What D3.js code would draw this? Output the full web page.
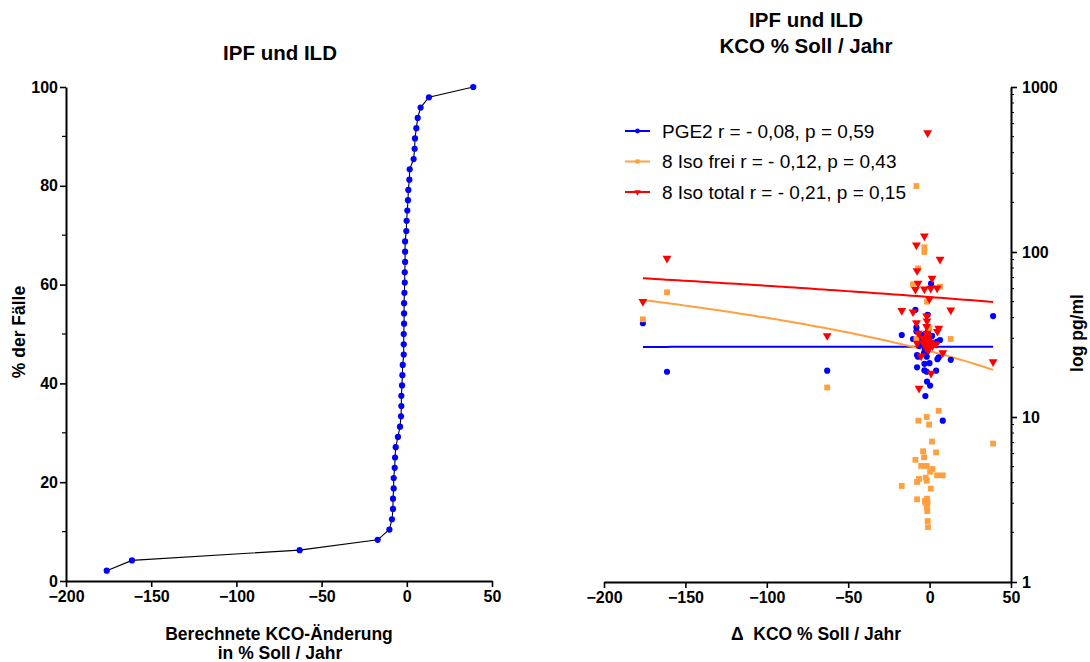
<!DOCTYPE html>
<html><head><meta charset="utf-8">
<script src="https://cdn.jsdelivr.net/npm/d3@7"></script>
<style>body{margin:0;background:#fff} text{font-family:Arial,"Liberation Sans",sans-serif}</style>
</head><body><svg id="c" width="1090" height="662"></svg>
<script>
// ---------- data ----------
const kcoChange = [-176.1, -161.3, -62.9, -17.1, -10.2, -8.7, -8.1, -8.1, -7.7, -7.7, -7.1, -6.9, -6.5, -5.2, -4.0, -3.4,
  -3.2, -3.2, -2.8, -2.6, -2.4, -1.8, -1.8, -1.8, -1.6, -1.6, -1.6, -1.4, -1.2, -1.2, -1.0, -1.0,
  -1.0, -0.3, -0.1, 0.3, 0.7, 0.9, 1.5, 1.7, 4.0, 4.6, 4.8, 5.6, 6.4, 8.1, 13.0, 39.0];
const pctCases = [2.08, 4.17, 6.25, 8.33, 10.42, 12.5, 14.58, 16.67, 18.75, 20.83, 22.92, 25, 27.08, 29.17, 31.25, 33.33,
  35.42, 37.5, 39.58, 41.67, 43.75, 45.83, 47.92, 50, 52.08, 54.17, 56.25, 58.33, 60.42, 62.5, 64.58, 66.67,
  68.75, 70.83, 72.92, 75, 77.08, 79.17, 81.25, 83.33, 85.42, 87.5, 89.58, 91.67, 93.75, 95.83, 97.92, 100];
const pge2 = [37.0, 18.8, 19.1, 31.4, 29.7, 44.6, 33, 34.9, 23.7, 20.0, 23.2, 30, 27, 28, 31.4, 24.5,
  21.0, 19.2, 26, 13.4, 29, 32, 23.2, 18.8, 27, 16.4, 30, 25, 28, 41.6, 30.4, 26,
  33, 29, 21.2, 15.5, 27, 64.3, 31, 28, 19.1, 28.6, 22.4, 23.0, 29.3, 9.5, 22.2, 40.9];
const isoFree = [39.1, 57, 15.1, 3.82, 63.7, 5.5, 251, 29.7, 3.17, 4.04, 79.6, 9.5, 4.21, 5.05, 6.2, 5.7,
  106.9, 100, 3.1, 3.02, 4.29, 10.0, 5.05, 4.11, 50, 3.2, 2.82, 2.69, 3.05, 2.34, 2.15, null,
  null, 9.0, 34.5, 4.66, 3.68, null, 7.1, 4.84, 6.1, 4.43, null, 10.9, 61.6, 4.43, 29.7, 6.9];
const isoTotal = [50, 91.6, 31.1, 44.1, 43.3, 59.3, 110, 37.2, 77, 28, 64.6, 32.2, 14.9, 23.4, 30, 27.7,
  125, 59.6, 29, 27.3, 26.5, 40.9, 35.3, 28.5, 38.2, 32.2, 29.3, 26.1, 528, 27.9, 31, 25.5,
  30.5, 27, 51.9, 28.5, 60.2, 18.4, 69.3, 26.9, 27.7, 60.5, 33, 34.5, 90.3, 24.5, 44.5, 21.6];
const seriesNames = ["PGE2 r = - 0,08, p = 0,59", "8 Iso frei r = - 0,12, p = 0,43", "8 Iso total r = - 0,21, p = 0,15"];
const seriesColors = ["#0000ff", "#ffa040", "#ff0000"];
const fitX = [-176.1, 39.0];
const fitPGE2 = [26.6, 26.7];
const fitFree = [51.2, 19.3];
const fitTotal = [69.3, 49.8];
const xTicks = [-200, -150, -100, -50, 0, 50];
const pctTicks = [0, 20, 40, 60, 80, 100];
const pctMinor = [10, 30, 50, 70, 90];
const logTicks = [1, 10, 100, 1000];

// ---------- drawing ----------
const svg = d3.select("#c");
const FONT = "Arial, 'Liberation Sans', sans-serif";
const TICK_FS = 16, TITLE_FS = 20.5, AXT_FS = 17.5, LEG_FS = 19;

function styleAxis(g) {
  g.selectAll(".domain").attr("stroke", "#000").attr("stroke-width", 2);
  g.selectAll(".tick line").attr("stroke", "#000").attr("stroke-width", 1.6);
  g.selectAll(".tick text").attr("font-family", FONT).attr("font-size", TICK_FS).attr("font-weight", "bold").attr("fill", "#000");
}

// Left chart
const xL = d3.scaleLinear().domain([-200, 50]).range([66, 492]);
const yL = d3.scaleLinear().domain([0, 100]).range([581, 87]);

const gxL = svg.append("g").attr("transform", "translate(0,581)")
  .call(d3.axisBottom(xL).tickValues(xTicks).tickSize(6).tickSizeOuter(0).tickPadding(4));
styleAxis(gxL);
const gyL = svg.append("g").attr("transform", "translate(66,0)")
  .call(d3.axisLeft(yL).tickValues(pctTicks).tickSize(6).tickSizeOuter(0).tickPadding(2));
styleAxis(gyL);
svg.append("g").selectAll("line").data(pctMinor).join("line")
  .attr("x1", 62).attr("x2", 66).attr("y1", d => yL(d)).attr("y2", d => yL(d))
  .attr("stroke", "#000").attr("stroke-width", 1.2);

const leftPts = kcoChange.map((x, i) => [x, pctCases[i]]);
svg.append("path").datum(leftPts)
  .attr("d", d3.line().x(d => xL(d[0])).y(d => yL(d[1])))
  .attr("fill", "none").attr("stroke", "#000").attr("stroke-width", 1.1);
svg.append("g").selectAll("circle").data(leftPts).join("circle")
  .attr("cx", d => xL(d[0])).attr("cy", d => yL(d[1])).attr("r", 3.1).attr("fill", "#0000ff");

svg.append("text").attr("x", 280).attr("y", 60).attr("text-anchor", "middle")
  .attr("font-size", TITLE_FS).attr("font-weight", "bold").text("IPF und ILD");
svg.append("text").attr("transform", "translate(25,332) rotate(-90)").attr("text-anchor", "middle")
  .attr("font-size", AXT_FS).attr("font-weight", "bold").text("% der Fälle");
svg.append("text").attr("x", 279).attr("y", 640).attr("text-anchor", "middle")
  .attr("font-size", AXT_FS).attr("font-weight", "bold").text("Berechnete KCO-Änderung");
svg.append("text").attr("x", 280).attr("y", 659).attr("text-anchor", "middle")
  .attr("font-size", AXT_FS).attr("font-weight", "bold").text("in % Soll / Jahr");

// Right chart
const xR = d3.scaleLinear().domain([-200, 50]).range([604, 1011]);
const yR = d3.scaleLog().domain([1, 1000]).range([582, 87]);

const gxR = svg.append("g").attr("transform", "translate(0,582)")
  .call(d3.axisBottom(xR).tickValues(xTicks).tickSize(6).tickSizeOuter(0).tickPadding(4));
styleAxis(gxR);
const gyR = svg.append("g").attr("transform", "translate(1011,0)")
  .call(d3.axisRight(yR).tickValues(logTicks).tickFormat(d3.format("d")).tickSize(6).tickSizeOuter(0).tickPadding(5));
styleAxis(gyR);
const minorLog = [];
[1, 10, 100].forEach(dec => { for (let k = 2; k <= 9; k++) minorLog.push(dec * k); });
svg.append("g").selectAll("line").data(minorLog).join("line")
  .attr("x1", 1011).attr("x2", 1014).attr("y1", d => yR(d)).attr("y2", d => yR(d))
  .attr("stroke", "#000").attr("stroke-width", 1);

// regression lines (linear fits drawn on log axis)
const fits = [fitPGE2, fitFree, fitTotal];
fits.forEach((f, si) => {
  const n = 60;
  const pts = d3.range(n + 1).map(k => {
    const t = k / n;
    return [fitX[0] + t * (fitX[1] - fitX[0]), f[0] + t * (f[1] - f[0])];
  });
  svg.append("path").datum(pts)
    .attr("d", d3.line().x(d => xR(d[0])).y(d => yR(d[1])))
    .attr("fill", "none").attr("stroke", seriesColors[si]).attr("stroke-width", 2);
});

const symTypes = [d3.symbolCircle, d3.symbolSquare, d3.symbolTriangle];
const symSizes = [30, 34, 34];
const rot = [0, 0, 180];
[pge2, isoFree, isoTotal].forEach((vals, si) => {
  const data = kcoChange.map((x, i) => [x, vals[i]]).filter(d => d[1] != null);
  const sym = d3.symbol().type(symTypes[si]).size(symSizes[si])();
  svg.append("g").selectAll("path").data(data).join("path")
    .attr("d", sym)
    .attr("transform", d => `translate(${xR(d[0])},${yR(d[1])}) rotate(${rot[si]})`)
    .attr("fill", seriesColors[si]);
});

// legend
const legY = [131, 161.5, 192];
seriesNames.forEach((name, i) => {
  svg.append("line").attr("x1", 625).attr("x2", 650).attr("y1", legY[i]).attr("y2", legY[i])
    .attr("stroke", seriesColors[i]).attr("stroke-width", 2);
  svg.append("path").attr("d", d3.symbol().type(symTypes[i]).size(18)())
    .attr("transform", `translate(637.5,${legY[i]}) rotate(${rot[i]})`).attr("fill", seriesColors[i]);
  svg.append("text").attr("x", 662).attr("y", legY[i]).attr("dy", "0.36em")
    .attr("font-size", LEG_FS).text(name);
});

svg.append("text").attr("x", 806).attr("y", 27).attr("text-anchor", "middle")
  .attr("font-size", TITLE_FS).attr("font-weight", "bold").text("IPF und ILD");
svg.append("text").attr("x", 806).attr("y", 53).attr("text-anchor", "middle")
  .attr("font-size", TITLE_FS).attr("font-weight", "bold").text("KCO % Soll / Jahr");
svg.append("text").attr("x", 816).attr("y", 640).attr("text-anchor", "middle")
  .attr("font-size", AXT_FS).attr("font-weight", "bold").attr("xml:space", "preserve").text("Δ  KCO % Soll / Jahr");
svg.append("text").attr("transform", "translate(1083,333) rotate(-90)").attr("text-anchor", "middle")
  .attr("font-size", AXT_FS).attr("font-weight", "bold").text("log pg/ml");
</script></body></html>
